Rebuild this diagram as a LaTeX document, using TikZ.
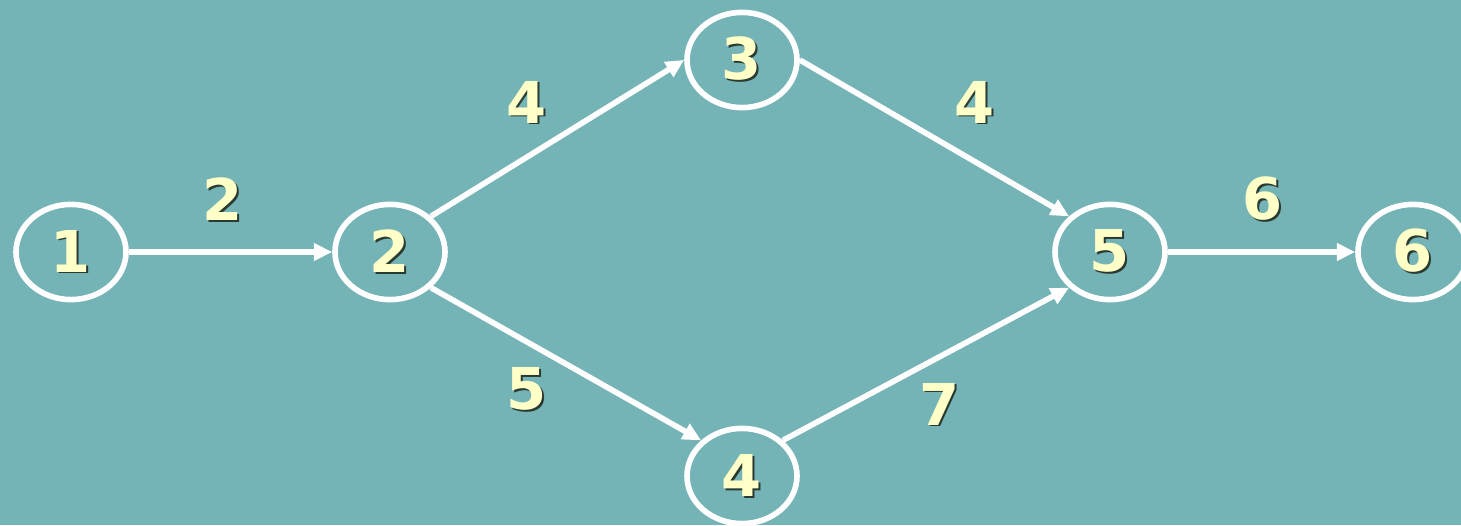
\documentclass[tikz,border=0pt]{standalone}
\usepackage{fontspec}
\setmainfont{DejaVu Sans}
\usepackage{xcolor}
\usetikzlibrary{arrows.meta, positioning, shapes.geometric}
\definecolor{netbg}{HTML}{74B3B6}
\definecolor{netnum}{HTML}{FFFFC8}
\definecolor{netshade}{HTML}{2A3A30}
\newcommand\shnum[1]{\rlap{\kern1.4pt\raisebox{-1.4pt}{\color{netshade}#1}}#1}

\begin{document}
\begin{tikzpicture}[
  event/.style={ellipse, draw=white, line width=4pt, minimum width=2.75cm,
                minimum height=2.38cm, inner sep=0pt,
                font=\fontsize{41pt}{41pt}\bfseries\selectfont, text=netnum},
  dur/.style={font=\fontsize{41pt}{41pt}\bfseries\selectfont, text=netnum, inner sep=0pt},
  act/.style={white, line width=4pt, -{Triangle[length=13pt, width=12pt]}},
]
  \fill[netbg] (0,0) rectangle (36.525,13.125);
  \useasboundingbox (0,0) rectangle (36.525,13.125);

  \node[event] (n1) at (1.775,6.825)  {\shnum{1}};
  \node[event] (n2) at (9.75,6.825)   {\shnum{2}};
  \node[event] (n3) at (18.55,11.625) {\shnum{3}};
  \node[event] (n4) at (18.55,1.225)  {\shnum{4}};
  \node[event] (n5) at (27.75,6.825)  {\shnum{5}};
  \node[event] (n6) at (35.325,6.825) {\shnum{6}};

  % Durations
  \node[dur] (d12) at (5.575,8.125)  {\shnum{2}};
  \node[dur] (d23) at (13.175,10.55) {\shnum{4}};
  \node[dur] (d35) at (24.375,10.55) {\shnum{4}};
  \node[dur] (d24) at (13.175,3.375) {\shnum{5}};
  \node[dur] (d45) at (23.5,3.0)     {\shnum{7}};
  \node[dur] (d56) at (31.575,8.125) {\shnum{6}};

  % Arrows
  \draw[act] (n1.east) -- (n2.west);
  \draw[act] (n2.north east) -- (n3.west);
  \draw[act] (n2.south east) -- (n4.north west);
  \draw[act] (n3.east) -- (n5.north west);
  \draw[act] (n4.north east) -- (n5.south west);
  \draw[act] (n5.east) -- (n6.west);
\end{tikzpicture}
\end{document}
